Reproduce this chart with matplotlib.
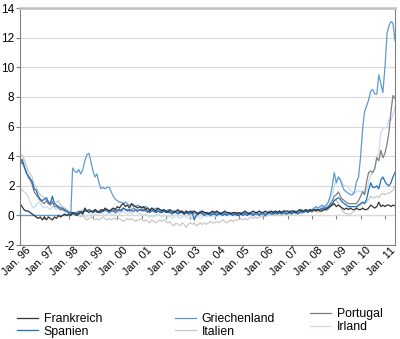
import numpy as np
import pandas as pd
import matplotlib
matplotlib.use("Agg")
import matplotlib.pyplot as plt
import matplotlib.transforms as mtransforms

plt.rcParams['font.family'] = ['Liberation Sans', 'DejaVu Sans']
plt.rcParams['axes.unicode_minus'] = False

# monatliche Werte Jan. 1996 - Jun. 2011
fr = [0.8, 0.6, 0.4, 0.3, 0.3, 0.2, 0.1, 0.0, -0.1, -0.2, -0.1, -0.3,
      -0.1, -0.3, -0.1, -0.2, -0.3, -0.1, -0.2, 0.0, -0.1, 0.0, 0.1, 0.0,
      0.1, 0.0, 0.2, 0.1, 0.0, 0.1, 0.2, 0.1, 0.5, 0.3, 0.2, 0.3,
      0.2, 0.4, 0.3, 0.2, 0.4, 0.3, 0.5, 0.4, 0.3, 0.4, 0.5, 0.4,
      0.6, 0.5, 0.7, 0.8, 0.6, 0.7, 0.5, 0.8, 0.7, 0.6, 0.5, 0.6,
      0.5, 0.6, 0.4, 0.5, 0.3, 0.5, 0.4, 0.3, 0.5, 0.4, 0.3, 0.4,
      0.3, 0.2, 0.4, 0.3, 0.2, 0.3, 0.4, 0.2, 0.3, 0.1, 0.3, 0.2,
      0.3, 0.2, 0.3, 0.2, 0.1, 0.2, 0.3, 0.2, 0.2, 0.1, 0.2, 0.3,
      0.2, 0.3, 0.2, 0.1, 0.2, 0.3, 0.2, 0.2, 0.1, 0.2, 0.2, 0.1,
      0.2, 0.1, 0.2, 0.3, 0.2, 0.1, 0.2, 0.3, 0.2, 0.2, 0.3, 0.2,
      0.2, 0.3, 0.2, 0.2, 0.3, 0.2, 0.3, 0.2, 0.3, 0.2, 0.3, 0.3,
      0.3, 0.2, 0.3, 0.3, 0.2, 0.3, 0.4, 0.3, 0.3, 0.4, 0.3, 0.4,
      0.3, 0.4, 0.3, 0.4, 0.3, 0.3, 0.4, 0.4, 0.5, 0.6, 0.7, 0.8,
      0.6, 0.7, 0.6, 0.5, 0.4, 0.5, 0.4, 0.5, 0.4, 0.4, 0.5, 0.4,
      0.4, 0.5, 0.4, 0.4, 0.5, 0.7, 0.6, 0.5, 0.6, 0.9, 0.6, 0.7,
      0.6, 0.7, 0.7, 0.6, 0.7, 0.65]

es = [3.5, 3.8, 3.4, 2.9, 2.7, 2.5, 2.3, 1.8, 1.7, 1.3, 1.1, 1.0,
      1.1, 1.2, 0.9, 0.8, 1.3, 0.8, 0.7, 0.6, 0.5, 0.5, 0.4, 0.3,
      0.2, 0.2, 0.1, 0.2, 0.1, 0.2, 0.3, 0.2, 0.3, 0.3, 0.4, 0.3,
      0.2, 0.3, 0.2, 0.3, 0.2, 0.3, 0.4, 0.3, 0.2, 0.3, 0.3, 0.2,
      0.3, 0.4, 0.3, 0.5, 0.4, 0.3, 0.4, 0.3, 0.3, 0.4, 0.3, 0.4,
      0.4, 0.3, 0.4, 0.3, 0.2, 0.3, 0.3, 0.2, 0.3, 0.2, 0.2, 0.3,
      0.2, 0.3, 0.2, 0.1, 0.2, 0.2, 0.1, 0.2, 0.2, 0.1, 0.2, 0.1,
      0.1, 0.2, -0.3, 0.0, 0.1, 0.2, 0.1, 0.0, 0.1, 0.1, 0.0, 0.1,
      0.1, 0.0, 0.1, 0.1, 0.0, 0.1, 0.0, 0.1, 0.1, 0.0, 0.1, 0.0,
      0.0, 0.1, 0.0, 0.1, 0.0, 0.1, 0.1, 0.0, 0.1, 0.1, 0.0, 0.1,
      0.1, 0.0, 0.1, 0.2, 0.1, 0.1, 0.2, 0.1, 0.2, 0.1, 0.2, 0.1,
      0.1, 0.2, 0.1, 0.2, 0.2, 0.1, 0.2, 0.3, 0.2, 0.3, 0.2, 0.3,
      0.3, 0.4, 0.4, 0.4, 0.4, 0.5, 0.5, 0.5, 0.6, 0.7, 0.8, 1.0,
      1.1, 1.2, 1.1, 0.9, 0.8, 0.7, 0.6, 0.6, 0.6, 0.6, 0.6, 0.7,
      0.8, 0.9, 0.8, 1.1, 1.7, 2.2, 1.9, 1.9, 2.0, 1.8, 2.4, 2.6,
      2.3, 2.1, 2.0, 2.2, 2.6, 2.9]

gr = [0, 0, 0, 0, 0, 0, 0, 0, 0, 0, 0, 0,
      0, 0, 0, 0, 0, 0, 0, 0, 0, 0, 0, 0,
      0, 0, 3.2, 3.0, 2.9, 3.1, 2.8, 3.1, 3.7, 4.1, 4.2, 3.6,
      3.0, 2.6, 2.8, 2.2, 1.8, 1.9, 1.8, 1.9, 1.9, 1.6, 1.3, 1.1,
      1.0, 0.9, 0.9, 0.8, 0.9, 0.8, 0.7, 0.7, 0.6, 0.6, 0.7, 0.6,
      0.6, 0.5, 0.6, 0.5, 0.4, 0.5, 0.4, 0.5, 0.4, 0.3, 0.4, 0.3,
      0.3, 0.4, 0.3, 0.2, 0.3, 0.3, 0.2, 0.3, 0.3, 0.2, 0.3, 0.2,
      0.2, 0.3, 0.2, 0.1, 0.2, 0.3, 0.2, 0.1, 0.2, 0.2, 0.1, 0.2,
      0.2, 0.1, 0.2, 0.2, 0.1, 0.2, 0.1, 0.2, 0.2, 0.1, 0.2, 0.1,
      0.1, 0.2, 0.1, 0.2, 0.1, 0.2, 0.2, 0.1, 0.2, 0.2, 0.1, 0.2,
      0.2, 0.1, 0.2, 0.3, 0.2, 0.2, 0.3, 0.2, 0.3, 0.2, 0.3, 0.2,
      0.2, 0.3, 0.2, 0.3, 0.3, 0.2, 0.3, 0.4, 0.3, 0.4, 0.3, 0.4,
      0.4, 0.5, 0.6, 0.5, 0.6, 0.7, 0.6, 0.7, 0.9, 1.3, 2.0, 2.9,
      2.2, 2.6, 2.4, 2.0, 1.7, 1.6, 1.5, 1.4, 1.4, 1.6, 2.3, 2.6,
      4.0, 5.9, 7.0, 7.4, 7.8, 8.4, 8.5, 8.2, 8.2, 9.5, 8.9, 8.3,
      10.0, 12.3, 12.8, 13.1, 13.0, 11.8]

it = [4.0, 4.1, 3.8, 3.4, 3.0, 2.8, 2.6, 2.1, 1.9, 1.6, 1.4, 1.3,
      1.2, 1.1, 1.0, 0.9, 1.0, 0.8, 0.9, 1.0, 0.7, 0.6, 0.5, 0.4,
      0.3, 0.2, 0.1, 0.0, 0.1, 0.0, -0.1, 0.0, -0.2, -0.3, -0.2, -0.1,
      -0.2, -0.3, -0.2, -0.3, -0.2, -0.1, -0.2, -0.3, -0.2, -0.3, -0.2, -0.2,
      -0.3, -0.2, -0.3, -0.4, -0.3, -0.2, -0.3, -0.2, -0.3, -0.4, -0.3, -0.3,
      -0.2, -0.4, -0.3, -0.4, -0.5, -0.3, -0.4, -0.5, -0.4, -0.3, -0.4, -0.3,
      -0.4, -0.5, -0.4, -0.6, -0.7, -0.5, -0.6, -0.7, -0.5, -0.6, -0.8, -0.6,
      -0.5, -0.6, -0.5, -0.7, -0.6, -0.5, -0.6, -0.5, -0.6, -0.5, -0.4, -0.5,
      -0.5, -0.4, -0.5, -0.4, -0.3, -0.4, -0.5, -0.4, -0.3, -0.4, -0.3, -0.3,
      -0.3, -0.2, -0.3, -0.2, -0.3, -0.2, -0.1, -0.2, -0.1, -0.2, -0.1, -0.1,
      0.0, -0.1, 0.0, 0.1, 0.0, 0.1, 0.0, 0.1, 0.1, 0.0, 0.1, 0.2,
      0.1, 0.2, 0.1, 0.2, 0.1, 0.2, 0.2, 0.1, 0.2, 0.3, 0.2, 0.3,
      0.2, 0.3, 0.3, 0.2, 0.3, 0.3, 0.4, 0.3, 0.4, 0.6, 0.8, 1.1,
      1.0, 0.8, 0.6, 0.3, 0.2, 0.1, 0.1, 0.1, 0.2, 0.3, 0.5, 0.7,
      0.7, 0.9, 0.8, 0.9, 1.1, 1.3, 1.2, 1.2, 1.3, 1.2, 1.4, 1.5,
      1.4, 1.5, 1.5, 1.6, 1.7, 2.0]

pt = [3.4, 3.6, 3.3, 3.0, 2.6, 2.4, 2.1, 1.6, 1.4, 1.2, 1.0, 0.9,
      0.8, 1.0, 0.8, 0.7, 0.9, 0.6, 0.6, 0.5, 0.4, 0.4, 0.3, 0.3,
      0.2, 0.2, 0.2, 0.1, 0.2, 0.3, 0.2, 0.3, 0.4, 0.3, 0.4, 0.3,
      0.3, 0.4, 0.3, 0.2, 0.3, 0.4, 0.3, 0.4, 0.3, 0.3, 0.4, 0.3,
      0.4, 0.3, 0.4, 0.5, 0.4, 0.4, 0.3, 0.4, 0.5, 0.4, 0.3, 0.4,
      0.3, 0.4, 0.3, 0.2, 0.3, 0.4, 0.3, 0.2, 0.3, 0.3, 0.2, 0.3,
      0.2, 0.3, 0.2, 0.2, 0.3, 0.2, 0.2, 0.3, 0.2, 0.1, 0.2, 0.2,
      0.2, 0.1, 0.2, 0.1, 0.2, 0.2, 0.1, 0.2, 0.1, 0.1, 0.2, 0.1,
      0.1, 0.2, 0.1, 0.1, 0.2, 0.1, 0.1, 0.2, 0.1, 0.1, 0.1, 0.2,
      0.1, 0.2, 0.1, 0.2, 0.1, 0.2, 0.2, 0.1, 0.2, 0.2, 0.1, 0.2,
      0.2, 0.1, 0.2, 0.2, 0.2, 0.1, 0.2, 0.2, 0.3, 0.2, 0.2, 0.2,
      0.2, 0.3, 0.2, 0.3, 0.2, 0.3, 0.3, 0.2, 0.3, 0.3, 0.3, 0.4,
      0.3, 0.4, 0.4, 0.4, 0.4, 0.4, 0.5, 0.5, 0.5, 0.8, 1.0, 1.3,
      1.4, 1.6, 1.3, 1.1, 1.0, 0.9, 0.8, 0.8, 0.8, 0.8, 0.8, 1.0,
      1.3, 1.6, 1.4, 2.3, 2.9, 3.0, 2.9, 3.2, 3.9, 3.7, 4.4, 3.9,
      4.2, 4.8, 5.6, 7.0, 8.1, 7.9]

ie = [1.4, 1.8, 1.6, 1.5, 1.3, 0.9, 0.6, 0.5, 0.7, 0.9, 0.8, 0.6,
      0.5, 0.6, 0.5, 0.4, 0.6, 0.5, 0.4, 0.5, 0.3, 0.4, 0.3, 0.2,
      0.2, 0.1, 0.2, 0.1, 0.0, 0.1, 0.0, 0.1, 0.0, -0.1, 0.0, 0.1,
      0.0, 0.1, 0.0, 0.1, 0.2, 0.1, 0.0, 0.1, 0.2, 0.1, 0.0, 0.1,
      0.2, 0.1, 0.2, 0.3, 0.2, 0.1, 0.2, 0.1, 0.2, 0.3, 0.2, 0.1,
      0.1, 0.0, 0.1, 0.0, -0.1, 0.0, -0.1, 0.0, 0.1, 0.0, -0.1, 0.0,
      0.0, -0.1, 0.0, -0.2, -0.1, 0.0, -0.1, -0.2, -0.1, 0.0, -0.1, -0.2,
      -0.1, -0.2, -0.1, 0.0, -0.1, -0.2, -0.1, 0.0, -0.1, 0.0, -0.1, 0.0,
      0.0, -0.1, 0.0, 0.0, 0.1, 0.0, 0.0, 0.1, 0.0, 0.1, 0.0, 0.1,
      0.1, 0.0, 0.1, 0.1, 0.0, 0.1, 0.1, 0.0, 0.1, 0.0, 0.1, 0.1,
      0.1, 0.0, 0.1, 0.1, 0.2, 0.1, 0.1, 0.2, 0.1, 0.2, 0.1, 0.2,
      0.2, 0.1, 0.2, 0.2, 0.3, 0.2, 0.2, 0.3, 0.3, 0.4, 0.3, 0.4,
      0.3, 0.4, 0.5, 0.5, 0.5, 0.6, 0.6, 0.6, 0.8, 1.1, 1.4, 2.0,
      2.3, 2.6, 2.5, 2.2, 2.0, 2.0, 1.9, 1.7, 1.6, 1.5, 1.6, 1.7,
      1.6, 1.7, 1.5, 1.6, 2.3, 2.7, 2.9, 3.1, 4.0, 4.2, 5.6, 5.9,
      5.9, 6.0, 6.5, 6.4, 6.8, 7.3]

jahre = list(range(1996, 2012))
tick_labels = ["Jan. %02d" % (j % 100) for j in jahre]

datum = pd.date_range("1996-01-01", periods=len(fr), freq="MS")

fig = plt.figure(figsize=(4.0, 3.39), dpi=100)
ax = fig.add_axes([0.05, 0.277, 0.9375, 0.699])

# Reihenfolge: helle Linien zuerst
ax.plot(datum, ie, color="#c9dcef", lw=0.9, label="Irland")
ax.plot(datum, it, color="#c8c8c8", lw=0.9, label="Italien")
ax.plot(datum, pt, color="#7f7f7f", lw=0.9, label="Portugal")
ax.plot(datum, gr, color="#5b9bd5", lw=0.9, label="Griechenland")
ax.plot(datum, es, color="#1f6fc0", lw=0.9, label="Spanien")
ax.plot(datum, fr, color="#333333", lw=0.9, label="Frankreich")

ax.set_ylim(-2, 14)
ax.set_xlim(datum[0], datum[-1])
ax.set_yticks(range(-2, 15, 2))
ax.yaxis.grid(True, color="#d9d9d9", lw=0.8)
ax.set_axisbelow(True)

ticks = [pd.Timestamp("%d-01-01" % j) for j in jahre]
ax.set_xticks(ticks)
ax.set_xticklabels(tick_labels, rotation=45, ha="right")
ax.tick_params(axis="x", length=0, pad=0, labelsize=7.8)
ax.tick_params(axis="y", length=3, color="#808080", pad=1, labelsize=8.5)
off = mtransforms.ScaledTranslation(9 / 72, 0, fig.dpi_scale_trans)
for lab in ax.get_xticklabels():
    lab.set_transform(lab.get_transform() + off)

for s in ["left", "right", "bottom"]:
    ax.spines[s].set_color("#808080")
    ax.spines[s].set_linewidth(0.8)
ax.spines["top"].set_color("#c0c0c0")
ax.spines["top"].set_linewidth(1.8)

# Nulllinie mit Tickmarken
sec = ax.secondary_xaxis(2 / 16)
sec.set_xticks(ticks)
sec.tick_params(axis="x", length=3, color="#808080", labelbottom=False)
sec.spines["bottom"].set_color("#808080")
sec.spines["bottom"].set_linewidth(0.8)

h = {l.get_label(): l for l in ax.get_lines()}
gruppen = [(["Frankreich", "Spanien"], 0.042, 0.004),
           (["Griechenland", "Italien"], 0.437, 0.004),
           (["Portugal", "Irland"], 0.775, 0.018)]
for namen, x0, y0 in gruppen:
    fig.legend([h[n] for n in namen], namen, loc="lower left",
               bbox_to_anchor=(x0, y0), frameon=False, fontsize=8.8,
               handlelength=1.7, handletextpad=0.5, labelspacing=0.05,
               borderpad=0, borderaxespad=0)

fig.savefig("out.png", dpi=100)
